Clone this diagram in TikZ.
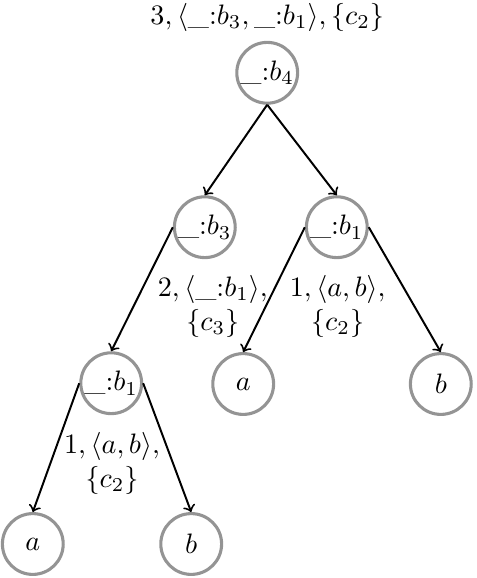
\documentclass[tikz,border=0pt]{standalone}
\usepackage{amsmath,amssymb}
\usepackage{xcolor}
\usepackage{tikz}
\usetikzlibrary{arrows.meta,calc}

\begin{document}
\begin{tikzpicture}[>=to, x=1cm, y=1cm,
    vertex/.style={circle, draw=black!42, line width=1.1pt, minimum size=0.76cm, inner sep=0pt},
    lbl/.style={align=center, inner sep=1pt}]
  \useasboundingbox (0,0) rectangle (5.95,-7.225);
  % tree nodes
  \node[vertex] (b4)  at (3.34,-0.91) {$\_{:}b_4$};
  \node[vertex] (b3)  at (2.56,-2.84) {$\_{:}b_3$};
  \node[vertex] (b1r) at (4.21,-2.84) {$\_{:}b_1$};
  \node[vertex] (b1l) at (1.39,-4.79) {$\_{:}b_1$};
  \node[vertex] (ar)  at (3.04,-4.80) {$a$};
  \node[vertex] (br)  at (5.51,-4.80) {$b$};
  \node[vertex] (al)  at (0.41,-6.80) {$a$};
  \node[vertex] (bl)  at (2.39,-6.80) {$b$};
  % annotations
  \node[lbl] (t4) at (3.34,-0.22) {$3, \langle \_{:}b_3, \_{:}b_1\rangle, \{c_2\}$};
  \node[lbl] (t3) at (2.66,-3.83) {$2, \langle \_{:}b_1\rangle,$\\$\{c_3\}$};
  \node[lbl] (t1r) at (4.22,-3.83) {$1, \langle a, b\rangle,$\\$\{c_2\}$};
  \node[lbl] (t1l) at (1.40,-5.79) {$1, \langle a, b\rangle,$\\$\{c_2\}$};
  % edges
  \draw[->, line width=0.7pt] (b4.south) -- (b3.north);
  \draw[->, line width=0.7pt] (b4.south) -- (b1r.north);
  \draw[->, line width=0.7pt] (b3.west) -- (b1l.north);
  \draw[->, line width=0.7pt] (b1r.west) -- (ar.north);
  \draw[->, line width=0.7pt] (b1r.east) -- (br.north);
  \draw[->, line width=0.7pt] (b1l.west) -- (al.north);
  \draw[->, line width=0.7pt] (b1l.east) -- (bl.north);
\end{tikzpicture}
\end{document}
